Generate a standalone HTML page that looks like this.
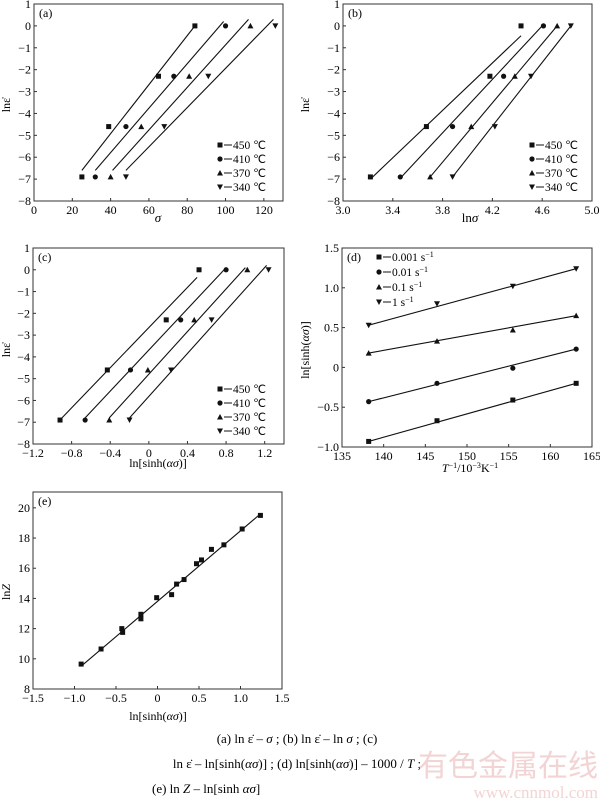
<!DOCTYPE html>
<html><head><meta charset="utf-8"><style>
body{margin:0;background:#fff;width:600px;height:801px;overflow:hidden}
svg{font-family:"Liberation Serif",serif;}
</style></head><body>
<svg id="s" width="600" height="801" viewBox="0 0 600 801" xmlns="http://www.w3.org/2000/svg"></svg>
<script>
const S=document.getElementById('s');let h='';
function P(o){
 const X=v=>o.x0+(v-o.xa)/(o.xb-o.xa)*(o.x1-o.x0);
 const Y=v=>o.y1-(v-o.ya)/(o.yb-o.ya)*(o.y1-o.y0);
 o.X=X;o.Y=Y;
 h+=`<rect x="${o.x0}" y="${o.y0}" width="${o.x1-o.x0}" height="${o.y1-o.y0}" fill="none" stroke="#333" stroke-width="1"/>`;
 o.xt.forEach(t=>{const x=X(t[0]);h+=`<line x1="${x}" y1="${o.y1}" x2="${x}" y2="${o.y1-3}" stroke="#333"/><text x="${x}" y="${o.y1+13}" font-size="12" text-anchor="middle">${t[1]}</text>`});
 o.yt.forEach(t=>{const y=Y(t[0]);h+=`<line x1="${o.x0}" y1="${y}" x2="${o.x0+3}" y2="${y}" stroke="#333"/><text x="${o.x0-3}" y="${y+4}" font-size="12" text-anchor="end">${t[1]}</text>`});
 h+=`<text x="${o.x0+5}" y="${o.y0+13}" font-size="12">${o.tag}</text>`;
}
function mk(o,t,x,y){x=o.X(x);y=o.Y(y);
 if(t==0)h+=`<rect x="${x-2.5}" y="${y-2.5}" width="5" height="5" fill="#111"/>`;
 if(t==1)h+=`<circle cx="${x}" cy="${y}" r="2.6" fill="#111"/>`;
 if(t==2)h+=`<polygon points="${x},${y-3} ${x-3},${y+2.5} ${x+3},${y+2.5}" fill="#111"/>`;
 if(t==3)h+=`<polygon points="${x},${y+3} ${x-3},${y-2.5} ${x+3},${y-2.5}" fill="#111"/>`;}
function ln(o,a,b,c,d){h+=`<line x1="${o.X(a)}" y1="${o.Y(b)}" x2="${o.X(c)}" y2="${o.Y(d)}" stroke="#111" stroke-width="1.1"/>`}
function leg(x,y,labels,dy){labels.forEach((l,i)=>{const yy=y+i*dy;const o={X:v=>v,Y:v=>v};mk(o,i,x,yy);h+=`<line x1="${x+4}" y1="${yy}" x2="${x+12}" y2="${yy}" stroke="#111"/><text x="${x+13}" y="${yy+4}" font-size="11.5">${l}</text>`})}
const yl=[[1,'1'],[0,'0'],[-1,'−1'],[-2,'−2'],[-3,'−3'],[-4,'−4'],[-5,'−5'],[-6,'−6'],[-7,'−7'],[-8,'−8']];
const L=['450 ℃','410 ℃','370 ℃','340 ℃'];const lv=[0,-2.3,-4.6,-6.9];
function data(o,xs,lines){xs.forEach((r,i)=>r.forEach((x,j)=>mk(o,i,x,lv[j])));lines.forEach(l=>ln(o,...l))}
let a={x0:34,x1:283,y0:4,y1:201,xa:0,xb:130,ya:-8,yb:1,tag:'(a)',xt:[0,20,40,60,80,100,120].map(v=>[v,v]),yt:yl};P(a);
data(a,[[84,65,39,25],[100,73,48,32],[113,81,56,40],[126,91,68,48]],[[25,-6.6,84,0],[32,-6.6,99,0.2],[41,-6.6,112,0.3],[48,-6.6,125,0.3]]);
leg(220,145,L,14);
h+=`<text x="158" y="222" font-size="13" font-style="italic" text-anchor="middle">σ</text>`;
h+=`<text transform="translate(10,105) rotate(-90)" font-size="12" text-anchor="middle">lnε̇</text>`;
let b={x0:343,x1:592,y0:4,y1:201,xa:3,xb:5,ya:-8,yb:1,tag:'(b)',xt:[3,3.4,3.8,4.2,4.6,5].map(v=>[v,v.toFixed(1)]),yt:yl};P(b);
data(b,[[4.43,4.18,3.67,3.22],[4.61,4.29,3.88,3.46],[4.72,4.38,4.03,3.70],[4.83,4.51,4.22,3.88]],[[3.22,-7,4.43,-0.45],[3.47,-6.9,4.6,0],[3.70,-6.9,4.72,0],[3.88,-6.9,4.83,0]]);
leg(532,145,L,14);
h+=`<text x="470" y="222" font-size="13" text-anchor="middle">ln<tspan font-style="italic">σ</tspan></text>`;
h+=`<text transform="translate(309,105) rotate(-90)" font-size="12" text-anchor="middle">lnε̇</text>`;
let c={x0:33,x1:284,y0:248,y1:444,xa:-1.2,xb:1.4,ya:-8,yb:1,tag:'(c)',xt:[[-1.2,'−1.2'],[-0.8,'−0.8'],[-0.4,'−0.4'],[0,'0'],[0.4,'0.4'],[0.8,'0.8'],[1.2,'1.2']],yt:yl};P(c);
data(c,[[0.52,0.18,-0.43,-0.92],[0.8,0.33,-0.19,-0.66],[1.02,0.47,-0.01,-0.41],[1.24,0.65,0.23,-0.2]],[[-0.9,-6.8,0.5,-0.35],[-0.66,-6.8,0.78,0],[-0.41,-6.8,1.0,0.1],[-0.2,-6.8,1.22,0.2]]);
leg(220,389,L,14);
h+=`<text x="158" y="467" font-size="12" text-anchor="middle">ln[sinh(<tspan font-style="italic">ασ</tspan>)]</text>`;
h+=`<text transform="translate(10,350) rotate(-90)" font-size="12" text-anchor="middle">lnε̇</text>`;
let d={x0:342,x1:592,y0:248,y1:447,xa:135,xb:165,ya:-1,yb:1.5,tag:'(d)',xt:[135,140,145,150,155,160,165].map(v=>[v,v]),yt:[[1.5,'1.5'],[1,'1.0'],[0.5,'0.5'],[0,'0'],[-0.5,'−0.5'],[-1,'−1.0']]};P(d);
const dx=[138.2,146.4,155.5,163.1];
[[-0.93,-0.67,-0.41,-0.2],[-0.43,-0.2,-0.01,0.23],[0.18,0.33,0.47,0.65],[0.53,0.8,1.02,1.24]].forEach((r,i)=>{r.forEach((y,j)=>mk(d,i,dx[j],y));ln(d,138.2,r[0],163.1,r[3])});
leg(379,257,['0.001 s<tspan font-size="8" dy="-4">−1</tspan>','0.01 s<tspan font-size="8" dy="-4">−1</tspan>','0.1 s<tspan font-size="8" dy="-4">−1</tspan>','1 s<tspan font-size="8" dy="-4">−1</tspan>'],15);
h+=`<text x="470" y="472" font-size="12" text-anchor="middle"><tspan font-style="italic">T</tspan><tspan font-size="8" dy="-4">−1</tspan><tspan dy="4">/10</tspan><tspan font-size="8" dy="-4">−3</tspan><tspan dy="4">K</tspan><tspan font-size="8" dy="-4">−1</tspan></text>`;
h+=`<text transform="translate(309,350) rotate(-90)" font-size="12" text-anchor="middle">ln[sinh(<tspan font-style="italic">ασ</tspan>)]</text>`;
let e={x0:33,x1:282,y0:492,y1:689,xa:-1.5,xb:1.5,ya:8,yb:21.05,tag:'(e)',xt:[[-1.5,'−1.5'],[-1,'−1.0'],[-0.5,'−0.5'],[0,'0'],[0.5,'0.5'],[1,'1.0'],[1.5,'1.5']],yt:[8,10,12,14,16,18,20].map(v=>[v,v])};P(e);
ln(e,-0.9,9.6,1.24,19.6);
[[-0.92,9.65],[-0.68,10.65],[-0.43,12.0],[-0.42,11.75],[-0.2,12.95],[-0.2,12.65],[-0.01,14.05],[0.17,14.25],[0.23,14.95],[0.32,15.25],[0.47,16.3],[0.53,16.55],[0.65,17.25],[0.8,17.55],[1.02,18.6],[1.24,19.5]].forEach(p=>mk(e,0,p[0],p[1]));
h+=`<text x="158" y="720" font-size="12" text-anchor="middle">ln[sinh(<tspan font-style="italic">ασ</tspan>)]</text>`;
h+=`<text transform="translate(10,592) rotate(-90)" font-size="12" text-anchor="middle">ln<tspan font-style="italic">Z</tspan></text>`;
h+=`<text x="297" y="743" font-size="13" text-anchor="middle">(a)  ln ε̇ – <tspan font-style="italic">σ</tspan> ; (b)  ln ε̇ – ln <tspan font-style="italic">σ</tspan> ; (c)</text>`;
h+=`<text x="297" y="768" font-size="13" text-anchor="middle">ln ε̇ – ln[sinh(<tspan font-style="italic">ασ</tspan>)] ;  (d)  ln[sinh(<tspan font-style="italic">ασ</tspan>)] – 1000 / <tspan font-style="italic">T</tspan> ;</text>`;
h+=`<text x="152" y="793" font-size="13">(e)  ln <tspan font-style="italic">Z</tspan> – ln[sinh <tspan font-style="italic">ασ</tspan>]</text>`;
h+=`<text x="598" y="776" font-size="30" fill="#f3d4d4" text-anchor="end" font-family="Noto Sans CJK SC,sans-serif">有色金属在线</text>`;
h+=`<text x="598" y="798" font-size="17" fill="#f3d4d4" text-anchor="end">www.cnnmol.com</text>`;
S.innerHTML=h;
</script>
</body></html>
